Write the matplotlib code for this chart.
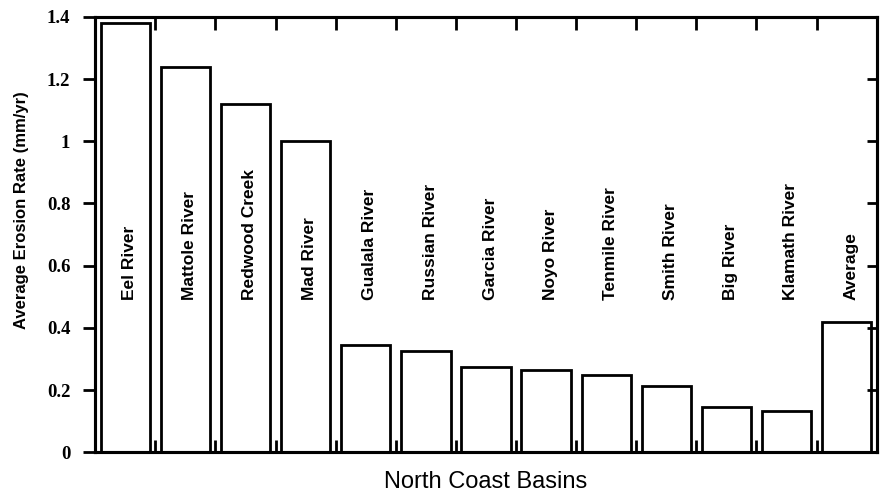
import matplotlib.pyplot as plt
import numpy as np

# ---- data ----
basins = ["Eel River", "Mattole River", "Redwood Creek", "Mad River",
          "Gualala River", "Russian River", "Garcia River", "Noyo River",
          "Tenmile River", "Smith River", "Big River", "Klamath River",
          "Average"]
erosion = [1.38, 1.24, 1.12, 1.00, 0.345, 0.325, 0.275, 0.265,
           0.248, 0.212, 0.146, 0.132, 0.42]
y_ticks = [0, 0.2, 0.4, 0.6, 0.8, 1.0, 1.2, 1.4]
y_tick_labels = ["0", "0.2", "0.4", "0.6", "0.8", "1", "1.2", "1.4"]


def main():
    fig = plt.figure(figsize=(8.82, 4.98), dpi=100)
    ax = fig.add_axes([0.108, 0.092, 0.886, 0.874])

    x = np.arange(len(basins))
    ax.bar(x, erosion, width=0.82, color="white", edgecolor="black",
           linewidth=2)

    # rotated basin names, bottom-aligned at a common height
    for xi, name in zip(x, basins):
        ax.text(xi + 0.07, 0.49, name, rotation=90, ha="center", va="bottom",
                fontsize=12.5, fontweight="bold", family="Liberation Sans")

    ax.set_xlim(-0.5, len(basins) - 0.5)
    ax.set_ylim(0, 1.4)

    # x ticks sit at the boundaries between categories
    ax.set_xticks(np.arange(len(basins) + 1) - 0.5)
    ax.set_xticklabels([])
    ax.tick_params(axis="x", direction="in", top=True, length=9, width=2)

    ax.set_yticks(y_ticks)
    ax.set_yticklabels(y_tick_labels, family="Liberation Serif",
                       fontsize=13.5, fontweight="bold")
    ax.tick_params(axis="y", direction="out", length=9, width=2, pad=9)

    # right side: inward ticks, no labels
    ax2 = ax.twinx()
    ax2.set_ylim(0, 1.4)
    ax2.set_yticks(y_ticks)
    ax2.set_yticklabels([])
    ax2.tick_params(axis="y", direction="in", length=7, width=2)

    for a in (ax, ax2):
        for s in a.spines.values():
            s.set_linewidth(2.2)

    ax.set_ylabel("Average Erosion Rate (mm/yr)", family="Liberation Sans",
                  fontsize=12, fontweight="bold", labelpad=6)
    ax.yaxis.set_label_coords(-0.085, 0.555)
    ax.set_xlabel("North Coast Basins", family="Liberation Sans",
                  fontsize=17, labelpad=10)

    fig.savefig("out.png", dpi=100)


if __name__ == "__main__":
    main()
